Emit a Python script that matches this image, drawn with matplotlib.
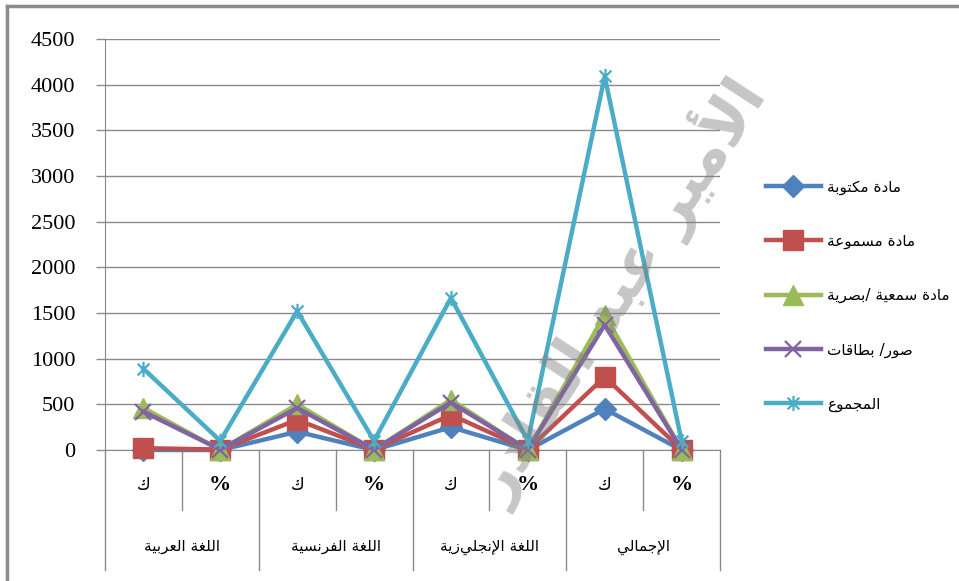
import matplotlib.pyplot as plt
from matplotlib.lines import Line2D
from matplotlib.path import Path

# matplotlib has no Arabic shaping / bidi, so map letters to their
# presentation forms and reverse for display
DUAL = {'ب': 0xFE8F, 'ت': 0xFE95, 'ج': 0xFE9D, 'ح': 0xFEA1, 'س': 0xFEB1,
        'ص': 0xFEB9, 'ط': 0xFEC1, 'ع': 0xFEC9, 'غ': 0xFECD, 'ف': 0xFED1,
        'ق': 0xFED5, 'ك': 0xFED9, 'ل': 0xFEDD, 'م': 0xFEE1, 'ن': 0xFEE5,
        'ه': 0xFEE9, 'ي': 0xFEF1}
RIGHT = {'ا': 0xFE8D, 'أ': 0xFE83, 'إ': 0xFE87, 'د': 0xFEA9, 'ر': 0xFEAD,
         'و': 0xFEED, 'ة': 0xFE93}
LAM_ALEF = {'ا': 0xFEFB, 'أ': 0xFEF7, 'إ': 0xFEF9}


def ar(s):
    out = []
    prev = False
    i = 0
    while i < len(s):
        c = s[i]
        nxt = s[i + 1] if i + 1 < len(s) else ''
        if c == 'ل' and nxt in LAM_ALEF:
            out.append(chr(LAM_ALEF[nxt] + (1 if prev else 0)))
            prev = False
            i += 2
            continue
        if c in DUAL:
            base = DUAL[c]
            joins = nxt in DUAL or nxt in RIGHT
            if prev and joins:
                code = base + 3
            elif prev:
                code = base + 1
            elif joins:
                code = base + 2
            else:
                code = base
            out.append(chr(code))
            prev = joins
        elif c in RIGHT:
            out.append(chr(RIGHT[c] + (1 if prev else 0)))
            prev = False
        else:
            out.append(c)
            prev = False
        i += 1
    return ''.join(reversed(out))


sub_labels = ['ك', '%', 'ك', '%', 'ك', '%', 'ك', '%']
groups = ['اللغة العربية', 'اللغة الفرنسية', 'اللغة الإنجليزية', 'الإجمالي']

written = [0, 0, 200, 0, 250, 0, 450, 0]
audio = [20, 5, 330, 5, 385, 5, 800, 5]
audiovisual = [460, 0, 500, 0, 550, 0, 1480, 0]
cards = [420, 5, 460, 5, 520, 5, 1370, 5]
total = [890, 100, 1520, 100, 1665, 100, 4090, 100]

series_names = ['مادة مكتوبة', 'مادة مسموعة', 'مادة سمعية /بصرية',
                'صور/ بطاقات', 'المجموع']

plt.rcParams['font.family'] = 'DejaVu Sans'

star = Path([(-1, -1), (1, 1), (-1, 1), (1, -1), (0, -1.3), (0, 1.3)],
            [Path.MOVETO, Path.LINETO, Path.MOVETO, Path.LINETO,
             Path.MOVETO, Path.LINETO])

fig = plt.figure(figsize=(9.59, 5.81), dpi=100)
ax = fig.add_axes([105 / 959, 1 - 450 / 581, 615 / 959, 411 / 581])

x = list(range(len(sub_labels)))
styles = [
    (written, '#4F81BD', dict(marker='D', ms=11)),
    (audio, '#C0504D', dict(marker='s', ms=14)),
    (audiovisual, '#9BBB59', dict(marker='^', ms=14)),
    (cards, '#8064A2', dict(marker='x', ms=11, mew=1.6)),
    (total, '#4BACC6', dict(marker=star, ms=11, mew=1.6)),
]
for (vals, col, mk), name in zip(styles, series_names):
    ax.plot(x, vals, color=col, lw=3.2, label=ar(name), clip_on=False,
            zorder=3, solid_joinstyle='round', **mk)

ax.set_xlim(-0.5, 7.5)
ax.set_ylim(0, 4500)
ax.set_yticks(range(0, 4501, 500))
ax.set_yticklabels([str(v) for v in range(0, 4501, 500)],
                   family='Liberation Serif', fontsize=16)
ax.tick_params(axis='y', direction='out', length=6.5, width=1,
               color='#8a8a8a', pad=15)
ax.grid(axis='y', color='#8a8a8a', lw=1)
ax.set_axisbelow(True)
for s in ['top', 'right']:
    ax.spines[s].set_visible(False)
for s in ['left', 'bottom']:
    ax.spines[s].set_color('#8a8a8a')

# two-level category axis
ax.set_xticks([])
xt = ax.get_xaxis_transform()
for k in range(9):
    depth = -0.292 if k % 2 == 0 else -0.146
    ax.plot([k - 0.5, k - 0.5], [0, depth], color='#8a8a8a', lw=1,
            transform=xt, clip_on=False)
for i, lab in enumerate(sub_labels):
    if lab == '%':
        ax.text(i, -0.085, lab, transform=xt, ha='center', va='center',
                family='Liberation Serif', fontsize=16, fontweight='bold')
    else:
        ax.text(i, -0.085, ar(lab), transform=xt, ha='center', va='center',
                fontsize=12)
for j, g in enumerate(groups):
    ax.text(2 * j + 0.5, -0.236, ar(g), transform=xt, ha='center',
            va='center', fontsize=11)

leg = ax.legend(loc='upper left', bbox_to_anchor=(758 / 959, 1 - 172 / 581),
                bbox_transform=fig.transFigure, frameon=False, fontsize=11,
                handlelength=3.6, handletextpad=0.4, labelspacing=2.55,
                borderpad=0)

# watermark
fig.text(0.645, 0.5, ar('الأمير عبد القادر'), rotation=57, ha='center',
         va='center', fontsize=44, color='#808080', alpha=0.45,
         fontweight='bold', zorder=10)

# chart frame
fig.add_artist(Line2D([7 / 959, 7 / 959], [0, 1 - 6 / 581], color='#8c8c8c',
                      lw=2.5, transform=fig.transFigure))
fig.add_artist(Line2D([7 / 959, 1], [1 - 6 / 581, 1 - 6 / 581],
                      color='#8c8c8c', lw=2.5, transform=fig.transFigure))

fig.savefig('out.png', dpi=100)
